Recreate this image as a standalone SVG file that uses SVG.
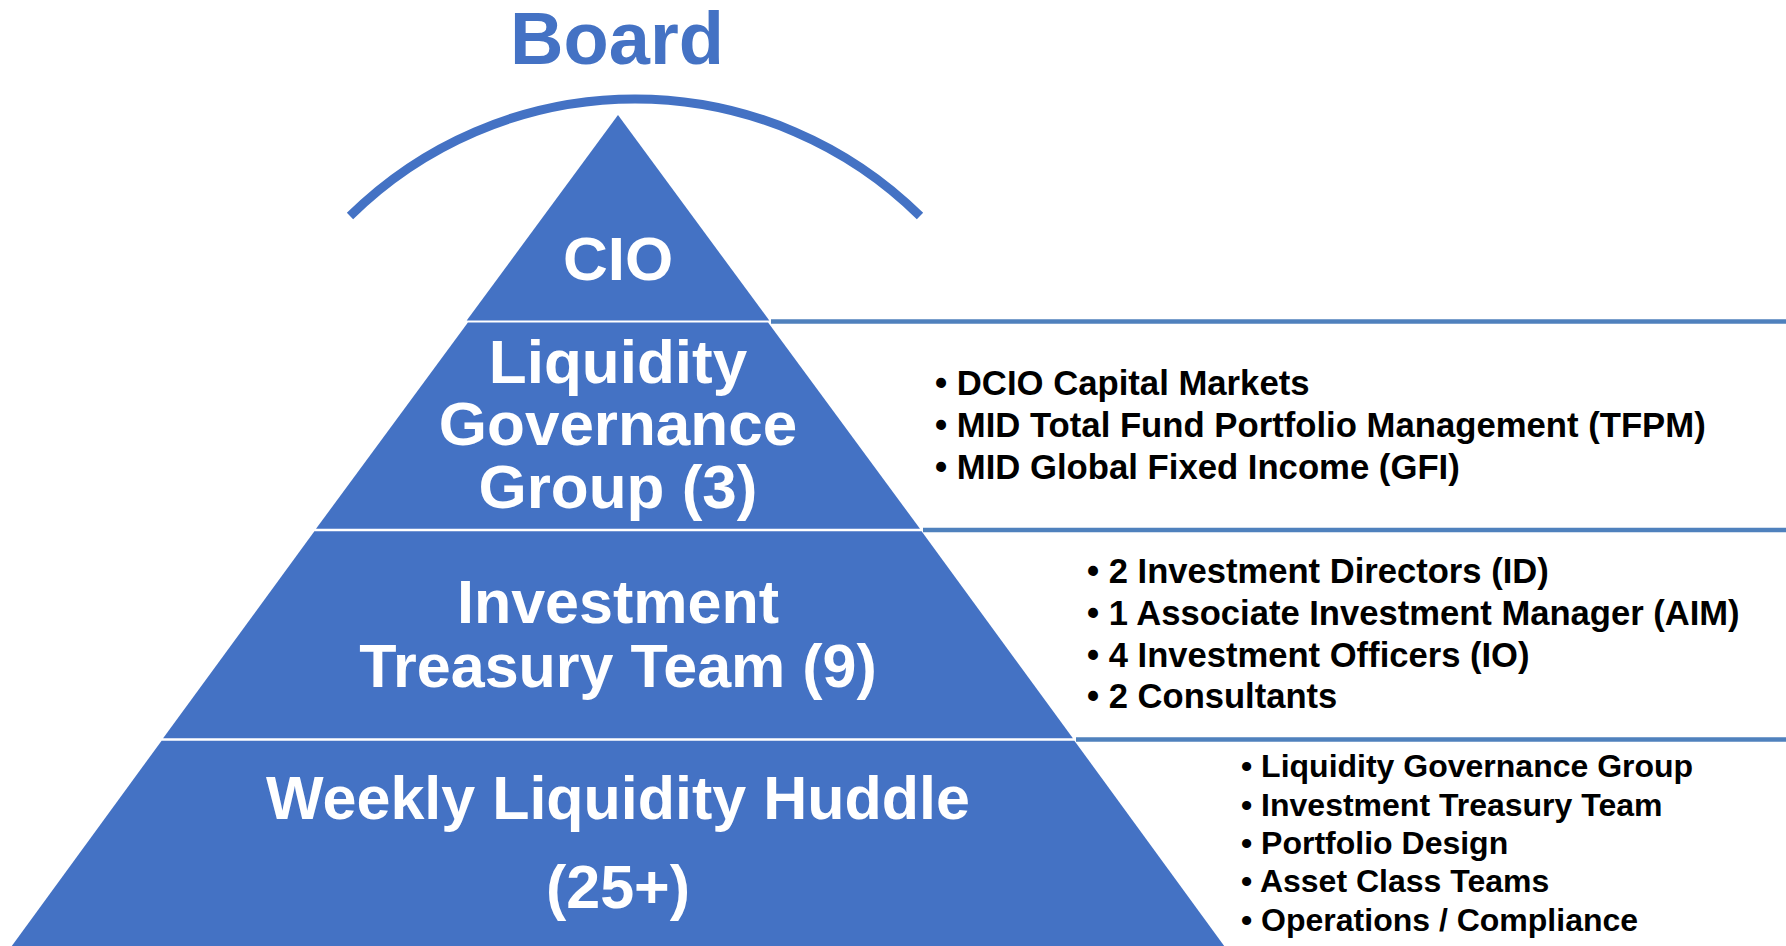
<svg xmlns="http://www.w3.org/2000/svg" width="1786" height="946" viewBox="0 0 1786 946">
<style>
.band{fill:#4472C4}
.lvl{font-family:"Liberation Sans",Arial,sans-serif;font-weight:bold;fill:#FFFFFF;text-anchor:middle}
.item{font-family:"Liberation Sans",Arial,sans-serif;font-weight:bold;fill:#000000}
.sep{stroke:#4F81BD;stroke-width:4.5;fill:none}
</style>
<rect x="0" y="0" width="1786" height="946" fill="#FFFFFF"/>
<g id="board">
<text x="617" y="64" font-family="Liberation Sans, Arial, sans-serif" font-weight="bold" font-size="74" fill="#4472C4" text-anchor="middle">Board</text>
<path d="M 350 216 A 405.6 405.6 0 0 1 920 216" fill="none" stroke="#4472C4" stroke-width="9"/>
</g>
<g id="cio">
<polygon class="band" points="618,115 769.3,320.5 466.7,320.5"/>
<text class="lvl" x="618" y="280" font-size="62">CIO</text>
</g>
<g id="liquidity-governance-group">
<polygon class="band" points="467.9,322.5 768.1,322.5 920,528.8 316,528.8"/>
<text class="lvl" x="618" y="383" font-size="62">Liquidity</text>
<text class="lvl" x="618" y="445" font-size="62">Governance</text>
<text class="lvl" x="618" y="508" font-size="62">Group (3)</text>
</g>
<g id="investment-treasury-team">
<polygon class="band" points="314.4,531.2 921.6,531.2 1072.9,738.3 163.1,738.3"/>
<text class="lvl" x="618" y="623" font-size="61">Investment</text>
<text class="lvl" x="618" y="687" font-size="61">Treasury Team (9)</text>
</g>
<g id="weekly-liquidity-huddle">
<polygon class="band" points="161.6,740.7 1074.4,740.7 1224.2,946 11.8,946"/>
<text class="lvl" x="618" y="819" font-size="61">Weekly Liquidity Huddle</text>
<text class="lvl" x="618" y="908" font-size="61">(25+)</text>
</g>
<g id="connectors">
<line class="sep" x1="771" y1="321.5" x2="1786" y2="321.5"/>
<line class="sep" x1="923" y1="530" x2="1786" y2="530"/>
<line class="sep" x1="1076" y1="739.5" x2="1786" y2="739.5"/>
</g>
<g id="lgg-members">
<text class="item" x="935" y="395" font-size="34.7">• DCIO Capital Markets</text>
<text class="item" x="935" y="437" font-size="34.7">• MID Total Fund Portfolio Management (TFPM)</text>
<text class="item" x="935" y="479" font-size="34.7">• MID Global Fixed Income (GFI)</text>
</g>
<g id="itt-members">
<text class="item" x="1087" y="583" font-size="34.6">• 2 Investment Directors (ID)</text>
<text class="item" x="1087" y="625" font-size="34.6">• 1 Associate Investment Manager (AIM)</text>
<text class="item" x="1087" y="667" font-size="34.6">• 4 Investment Officers (IO)</text>
<text class="item" x="1087" y="708" font-size="34.6">• 2 Consultants</text>
</g>
<g id="huddle-members">
<text class="item" x="1241" y="777" font-size="32">• Liquidity Governance Group</text>
<text class="item" x="1241" y="816" font-size="32">• Investment Treasury Team</text>
<text class="item" x="1241" y="854" font-size="32">• Portfolio Design</text>
<text class="item" x="1241" y="892" font-size="32">• Asset Class Teams</text>
<text class="item" x="1241" y="931" font-size="32">• Operations / Compliance</text>
</g>
</svg>
